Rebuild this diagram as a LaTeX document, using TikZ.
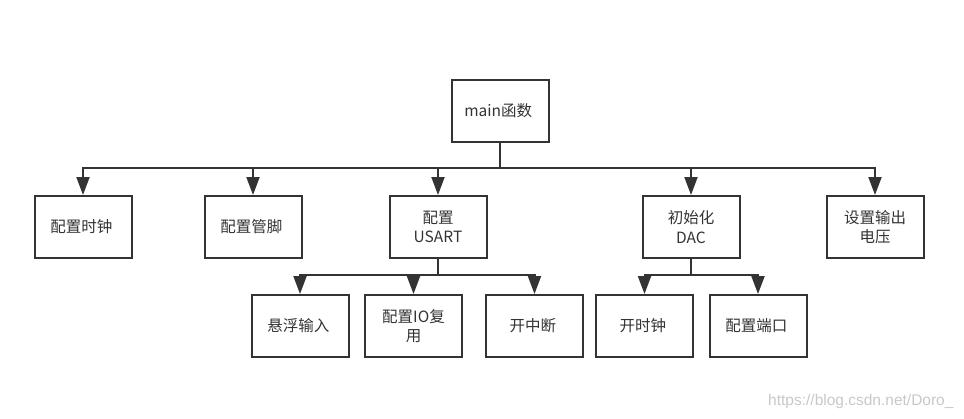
\documentclass[tikz,border=0pt]{standalone}
\usepackage{fontspec}
\setmainfont{Noto Sans CJK SC}
\newfontfamily\markfont{Liberation Sans}
\usepackage{xcolor}
\usetikzlibrary{arrows.meta}
\definecolor{boxgray}{RGB}{51,51,51}
\definecolor{markgray}{RGB}{200,200,200}

\begin{document}
\begin{tikzpicture}[x=1pt, y=-1pt]
  \tikzstyle{myline}=[line width=2pt, line join=miter];
  \tikzstyle{mybox}=[myline, draw=boxgray, text=boxgray, minimum width=97pt,
    minimum height=62pt, inner sep=2pt, align=center,
    font=\fontsize{15.5}{19.5}\selectfont];
  \tikzstyle{myconn}=[myline, draw=boxgray, -{Triangle[length=18pt, width=13pt]}];
  %
  \useasboundingbox (0, 0) rectangle (964, 418);
  %
  % main
  \node[mybox] (main) at (500, 110.5) { main函数 };
  \coordinate (bus) at (500, 168);
  %
  % first level
  \node[mybox] (clk) at (83, 227) { 配置时钟 };
  \node[mybox] (pin) at (253, 227) { 配置管脚 };
  \node[mybox] (usart) at (438, 227) { 配置\\USART };
  \node[mybox] (dac) at (691, 227) { 初始化\\DAC };
  \node[mybox] (vout) at (875, 227) { 设置输出\\电压 };
  %
  \draw[myline, draw=boxgray] (main) -- (bus);
  \foreach \n in {clk, pin, usart, dac, vout}
    \draw[myconn] (bus) -| (\n.north);
  %
  % usart
  \coordinate (usartbus) at (438, 275);
  \node[mybox] (float) at (300, 326) { 悬浮输入 };
  \node[mybox] (iomux) at (413.5, 326) { 配置IO复\\用 };
  \node[mybox] (irq) at (534.5, 326) { 开中断 };
  %
  \draw[myline, draw=boxgray] (usart) -- (usartbus);
  \foreach \n in {float, iomux, irq}
    \draw[myconn] (usartbus) -| (\n.north);
  %
  % dac
  \coordinate (dacbus) at (691, 275);
  \node[mybox] (dclk) at (644.5, 326) { 开时钟 };
  \node[mybox] (port) at (758, 326) { 配置端口 };
  %
  \draw[myline, draw=boxgray] (dac) -- (dacbus);
  \foreach \n in {dclk, port}
    \draw[myconn] (dacbus) -| (\n.north);
  %
  % watermark
  \node[text=markgray, font=\markfont\fontsize{15.5}{17}\selectfont, anchor=east]
    (mark) at (957, 401) { https://blog.csdn.net/Doro\_ };
\end{tikzpicture}
\end{document}
